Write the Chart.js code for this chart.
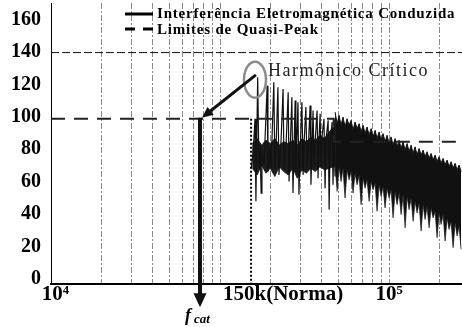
<!DOCTYPE html>
<html>
<head>
<meta charset="utf-8">
<script src="https://cdn.jsdelivr.net/npm/chart.js@4.4.0/dist/chart.umd.min.js"></script>
<style>
	html, body { margin: 0; padding: 0; background: #fff; }
</style>
</head>
<body>
<canvas id="mycanvas" width="462" height="327"></canvas>
<script>
// all frequencies in kHz, levels in dB
var gridFreq = [20, 30, 40, 50, 60, 70, 80, 90, 100, 200, 300, 400, 500, 600, 700, 800, 900, 1000, 2000];
var yTicks = [0, 20, 40, 60, 80, 100, 120, 140, 160];
var xLabels = ['10\u2074', '150k(Norma)', '10\u2075'];
var xLabelFreq = [10.6, 236, 1000];

// quasi-peak limits
var lim140Freq = [10, 2700];
var lim140Level = [140, 140];
var limFreq = [10, 470, 2700];
var limLevel = [100, 86, 86];
var normaFreq = [152.6, 152.6];
var normaLevel = [100, 0];

// spectrum, separated harmonics
var specFreq = [153, 157, 161, 163, 167, 170, 172.5, 175, 177, 182, 185, 190, 192, 198, 200, 203, 208, 211, 214, 220,
	223, 229, 236, 239, 246, 253, 256, 259.5, 266, 270, 274, 278, 281, 289, 293, 297, 305, 310, 314, 322,
	327, 332, 341, 345, 350, 355, 360, 365, 375, 380, 385, 391, 396, 402, 412, 418, 424, 436, 442, 448,
	460, 466, 473, 479];
var specLevel = [70, 80, 100, 50, 125, 70, 85, 55, 80, 72, 90, 120, 68, 82, 70, 88, 122, 70, 80, 119,
	66, 84, 118, 70, 85, 116, 62, 80, 113, 55, 82, 111, 68, 110, 54, 78, 110, 66, 85, 107,
	70, 80, 108, 60, 82, 105, 72, 86, 105, 64, 88, 103, 70, 90, 100, 58, 88, 99, 45, 85,
	98, 60, 95, 65];

// noise floor between the harmonics
var floorFreq = [155, 166, 176, 187, 198, 211, 224, 238, 253, 270, 286, 305, 324, 345, 366, 390, 415, 442, 470, 479];
var floorTop = [85, 88, 84, 87, 85, 88, 84, 86, 85, 87, 84, 88, 86, 89, 87, 90, 88, 92, 95, 100];
var floorBot = [70, 66, 72, 67, 70, 65, 71, 68, 66, 70, 64, 69, 67, 70, 68, 71, 69, 70, 71, 71];

// dense part: upper edge and downward spikes, same frequencies
var denseFreq = [479, 493, 506, 520, 534, 549, 564, 580, 596, 612, 629, 647, 665, 683, 702, 721, 741, 762, 783, 804,
	827, 849, 873, 897, 921, 947, 973, 1000, 1028, 1056, 1085, 1115, 1146, 1178, 1210, 1244, 1278, 1313, 1350, 1387,
	1425, 1465, 1505, 1547, 1589, 1633, 1678, 1725, 1772, 1822, 1872, 1923, 1976, 2031, 2087, 2145, 2204, 2265, 2327, 2392,
	2458, 2526, 2595, 2667];
var denseTop = [104, 97, 102, 96, 101, 95, 100, 96, 99, 93, 98, 94, 97, 92, 96, 91, 95, 90, 94, 89,
	93, 88, 92, 87, 91, 86, 90, 85, 89, 84, 88, 83, 87, 82, 86, 81, 85, 80, 84, 79,
	83, 78, 82, 78, 81, 77, 80, 76, 79, 75, 78, 74, 77, 73, 76, 72, 75, 71, 74, 70,
	73, 69, 72, 68];
var denseLow = [72, 56, 71, 62, 70, 52, 69, 63, 68, 55, 67, 60, 66, 48, 64, 58, 63, 50, 62, 57,
	61, 44, 60, 53, 59, 46, 58, 52, 57, 40, 56, 48, 55, 42, 54, 34, 53, 45, 52, 38,
	50, 43, 49, 32, 48, 39, 47, 34, 46, 40, 44, 28, 43, 36, 42, 26, 40, 33, 38, 22,
	37, 29, 35, 21];

// annotations (kHz, dB)
var ringAt = [161, 123.6];
var arrowFrom = [163, 126.5];
var arrowTo = [78.2, 100.6];
var fcatFreq = 76.1;
var fcatFrom = 100.6;
var fcatTip = -14;
var harmTextAt = [192, 126];

function pts(xs, ys) {
	return xs.map(function(x, i) { return {x: x, y: ys[i]}; });
}

function noPad(s) {
	s.paddingTop = 0;
	s.paddingBottom = 0;
	s.paddingLeft = 0;
	s.paddingRight = 0;
}

function arrowHead(c, x, y, ang, len, w) {
	c.beginPath();
	c.moveTo(x, y);
	c.lineTo(x - len * Math.cos(ang) + w * Math.sin(ang), y - len * Math.sin(ang) - w * Math.cos(ang));
	c.lineTo(x - len * Math.cos(ang) - w * Math.sin(ang), y - len * Math.sin(ang) + w * Math.cos(ang));
	c.closePath();
	c.fill();
}

var notes = {
	id: 'notes',
	afterDraw: function(chart) {
		var c = chart.ctx;
		var xs = chart.scales.x, ys = chart.scales.y;
		var px = function(f) { return xs.getPixelForValue(f); };
		var py = function(v) { return ys.getPixelForValue(v); };
		c.save();

		// ring round the critical harmonic
		c.strokeStyle = '#8c8c8c';
		c.lineWidth = 2.5;
		c.beginPath();
		c.ellipse(px(ringAt[0]), py(ringAt[1]), 11, 18, 0, 0, 2 * Math.PI);
		c.stroke();

		// diagonal arrow
		var x0 = px(arrowFrom[0]), y0 = py(arrowFrom[1]);
		var x1 = px(arrowTo[0]), y1 = py(arrowTo[1]);
		var ang = Math.atan2(y1 - y0, x1 - x0);
		c.strokeStyle = '#111';
		c.fillStyle = '#111';
		c.lineWidth = 3;
		c.beginPath();
		c.moveTo(x0, y0);
		c.lineTo(x1 - 8 * Math.cos(ang), y1 - 8 * Math.sin(ang));
		c.stroke();
		arrowHead(c, x1, y1, ang, 11, 5);

		// vertical arrow to f_cat
		var fx = px(fcatFreq);
		var fy0 = py(fcatFrom), fy1 = py(fcatTip);
		c.lineWidth = 4;
		c.beginPath();
		c.moveTo(fx, fy0);
		c.lineTo(fx, fy1 - 12);
		c.stroke();
		arrowHead(c, fx, fy1, Math.PI / 2, 14, 6.5);

		// texts
		c.fillStyle = '#000';
		c.textBaseline = 'alphabetic';
		c.textAlign = 'left';
		c.font = 'bold italic 18px "Liberation Serif"';
		c.fillText('f', fx - 15, 321);
		c.font = 'bold italic 13px "Liberation Serif"';
		c.fillText('cat', fx - 6, 323);

		c.fillStyle = '#222';
		c.font = '18px "Liberation Serif"';
		c.letterSpacing = '1.5px';
		c.fillText('Harmônico Crítico', px(harmTextAt[0]), py(harmTextAt[1]));

		// legend
		c.fillStyle = '#000';
		c.font = 'bold 15px "Liberation Serif"';
		c.letterSpacing = '0.8px';
		c.fillText('Interferência Eletromagnética Conduzida', 157, 18);
		c.fillText('Limites de Quasi-Peak', 157, 34);
		c.letterSpacing = '0px';
		c.strokeStyle = '#000';
		c.lineWidth = 3;
		c.beginPath();
		c.moveTo(125, 14);
		c.lineTo(153, 14);
		c.stroke();
		c.setLineDash([10, 8]);
		c.beginPath();
		c.moveTo(125, 29);
		c.lineTo(153, 29);
		c.stroke();
		c.restore();
	}
};

var ctx = document.getElementById('mycanvas');

var chart = new Chart(ctx, {
	type: 'line',
	data: {
		datasets: [
			{ data: pts(lim140Freq, lim140Level), borderColor: '#111', borderWidth: 1, borderDash: [8, 3], pointRadius: 0 },
			{ data: pts(limFreq, limLevel), stepped: true, borderColor: '#222', borderWidth: 2, borderDash: [14, 9], pointRadius: 0 },
			{ data: pts(normaFreq, normaLevel), borderColor: '#000', borderWidth: 2, borderDash: [2, 2], pointRadius: 0 },
			{ data: pts(specFreq, specLevel), borderColor: '#111', borderWidth: 1.2, pointRadius: 0 },
			{ data: pts(denseFreq, denseTop), borderColor: '#111', borderWidth: 1, backgroundColor: '#111', fill: '+1', pointRadius: 0 },
			{ data: pts(denseFreq, denseLow), borderColor: '#555', borderWidth: 1, fill: false, pointRadius: 0 },
			{ data: pts(floorFreq, floorTop), borderColor: '#222', borderWidth: 1, backgroundColor: '#1c1c1c', fill: '+1', pointRadius: 0 },
			{ data: pts(floorFreq, floorBot), borderColor: '#444', borderWidth: 1, fill: false, pointRadius: 0 }
		]
	},
	options: {
		responsive: false,
		animation: false,
		devicePixelRatio: 1,
		layout: { padding: { top: 3, right: 0, left: 0, bottom: 0 } },
		plugins: {
			legend: { display: false },
			tooltip: { enabled: false }
		},
		scales: {
			x: {
				type: 'logarithmic', min: 10, max: 2700, weight: 0,
				afterBuildTicks: function(s) { s.ticks = gridFreq.map(function(v) { return {value: v}; }); },
				afterFit: function(s) { s.height = 0; noPad(s); },
				ticks: { display: false },
				grid: { color: '#8a8a8a', lineWidth: 1, drawTicks: false },
				border: { display: true, color: '#000', width: 2, dash: [6, 2, 2, 2] }
			},
			xl: {
				type: 'logarithmic', position: 'bottom', min: 10, max: 2700, weight: 1,
				afterBuildTicks: function(s) { s.ticks = xLabelFreq.map(function(v) { return {value: v}; }); },
				afterFit: function(s) { s.height = 43; noPad(s); },
				ticks: {
					autoSkip: false, maxRotation: 0, padding: -2, color: '#000',
					font: { family: 'Liberation Serif', size: 21, weight: 'bold' },
					callback: function(v, i) { return xLabels[i]; }
				},
				grid: { display: false, drawTicks: false },
				border: { display: false }
			},
			y: { display: false, min: 0, max: 170 },
			yl: {
				position: 'left', min: -3.1, max: 170.2,
				afterBuildTicks: function(s) { s.ticks = yTicks.map(function(v) { return {value: v}; }); },
				afterFit: function(s) { s.width = 51; noPad(s); },
				ticks: {
					padding: 10, color: '#000',
					font: { family: 'Liberation Serif', size: 20, weight: 'bold' }
				},
				grid: { display: false, drawTicks: false },
				border: { display: true, color: '#000', width: 1 }
			}
		}
	},
	plugins: [notes]
});
</script>
</body>
</html>
